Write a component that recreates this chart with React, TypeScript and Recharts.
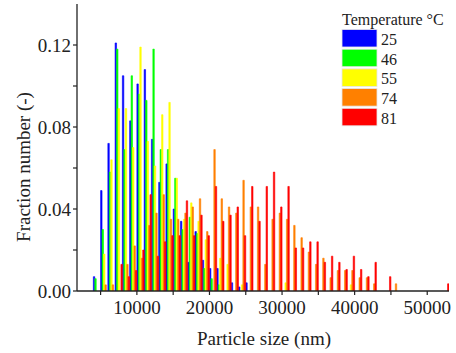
import React from "react";
import { BarChart, Bar, XAxis, YAxis } from "recharts";

// bin centres (nm), 1000 nm wide bins
const sizes = [
  4500, 5500, 6500, 7500, 8500, 9500, 10500, 11500, 12500, 13500,
  14500, 15500, 16500, 17500, 18500, 19500, 20500, 21500, 22500, 23500,
  24500, 25500, 26500, 27500, 28500, 29500, 30500, 31500, 32500, 33500,
  34500, 35500, 36500, 37500, 38500, 39500, 40500, 41500, 42500, 43500,
  44500, 45500, 46500, 47500, 48500, 49500, 50500, 51500, 52500,
];

const t25 = [
  0.007, 0.049, 0.072, 0.121, 0.105, 0.083, 0.101, 0.108, 0.074, 0.053,
  0.062, 0.04, 0.034, 0.014, 0.029, 0.015, 0.011, 0.011, 0, 0.004,
  0.002, 0.004, 0, 0, 0, 0, 0, 0, 0, 0,
  0, 0, 0, 0, 0, 0, 0, 0, 0, 0,
  0, 0, 0, 0, 0, 0, 0, 0, 0,
];
const t46 = [
  0.006, 0.03, 0.058, 0.118, 0.069, 0.105, 0.096, 0.093, 0.118, 0.069,
  0.069, 0.055, 0.03, 0.036, 0.028, 0.011, 0.006, 0.003, 0, 0,
  0, 0, 0, 0, 0, 0, 0, 0, 0, 0,
  0, 0, 0, 0, 0, 0, 0, 0, 0, 0,
  0, 0, 0, 0, 0, 0, 0, 0, 0,
];
const t55 = [
  0, 0.018, 0.064, 0.089, 0.089, 0.07, 0.119, 0.073, 0.061, 0.086,
  0.092, 0.055, 0.035, 0.043, 0.034, 0.025, 0, 0.016, 0.013, 0,
  0.003, 0, 0, 0, 0, 0, 0.004, 0, 0, 0,
  0, 0, 0, 0, 0, 0.003, 0, 0, 0, 0,
  0, 0, 0, 0, 0, 0, 0, 0, 0,
];
const t74 = [
  0, 0.003, 0.003, 0, 0.013, 0.022, 0.016, 0.032, 0.038, 0.047,
  0.035, 0.035, 0.038, 0.041, 0.045, 0.029, 0.069, 0.045, 0.041, 0.038,
  0.054, 0.041, 0.041, 0.013, 0.035, 0.038, 0.035, 0.032, 0.026, 0.019,
  0.013, 0.016, 0.0065, 0.01, 0.01, 0.01, 0.0065, 0.0065, 0.0035, 0,
  0, 0.0035, 0, 0, 0, 0, 0, 0, 0,
];
const t81 = [
  0, 0, 0, 0.013, 0.007, 0.01, 0.02, 0.047, 0.017, 0.024,
  0.027, 0.027, 0.044, 0.027, 0.037, 0.027, 0.051, 0.034, 0.037, 0.041,
  0.027, 0.051, 0.034, 0.051, 0.058, 0.041, 0.051, 0.021, 0.021, 0.024,
  0.024, 0.014, 0.017, 0.014, 0.0105, 0.017, 0.0105, 0.007, 0.014, 0,
  0.007, 0, 0, 0, 0, 0, 0, 0, 0.0035,
];

const temps = ["25", "46", "55", "74", "81"];
const seriesKeys = ["t25", "t46", "t55", "t74", "t81"];
const colors = ["#0000ff", "#00ff00", "#ffff00", "#ff8000", "#ff0000"];

const xTicks = [5000, 10000, 15000, 20000, 25000, 30000, 35000, 40000, 45000, 50000];
const yTicks = [0, 0.02, 0.04, 0.06, 0.08, 0.1, 0.12];

const rows = sizes.map((s, i) => ({
  size: s,
  t25: t25[i],
  t46: t46[i],
  t55: t55[i],
  t74: t74[i],
  t81: t81[i],
}));

const FONT = "'Liberation Serif', 'Times New Roman', serif";
const INK = "#222";

const XTick = (props: any) => {
  const { x, y, payload } = props;
  if (payload.value % 10000 !== 0) return <g />;
  return (
    <text x={x} y={y} dy="0.71em" textAnchor="middle" fontFamily={FONT} fontSize={19} fill={INK}>
      {payload.value}
    </text>
  );
};

const YTick = (props: any) => {
  const { x, y, payload } = props;
  if (Math.round(payload.value * 100) % 4 !== 0) return <g />;
  return (
    <text x={x} y={y} dy="0.355em" textAnchor="end" fontFamily={FONT} fontSize={19} fill={INK}>
      {payload.value.toFixed(2)}
    </text>
  );
};

export default function App() {
  return (
    <div style={{ position: "absolute", left: 0, top: 0, width: 456, height: 353, background: "#fff" }}>
      <BarChart
        width={456}
        height={353}
        data={rows}
        margin={{ top: 4, right: 7, left: 0, bottom: 0 }}
        barGap={0}
        barCategoryGap={0}
      >
        <XAxis
          xAxisId="b"
          dataKey="size"
          type="number"
          domain={[1750, 53000]}
          allowDataOverflow
          ticks={xTicks}
          interval={0}
          height={62}
          tickSize={4}
          tickMargin={6}
          axisLine={{ stroke: INK, strokeWidth: 1.3 }}
          tickLine={{ stroke: INK, strokeWidth: 1.2 }}
          tick={<XTick />}
          label={{
            content: () => (
              <text x={264} y={345} textAnchor="middle" fontFamily={FONT} fontSize={19} fill={INK}>
                Particle size (nm)
              </text>
            ),
          }}
        />
        <XAxis
          xAxisId="t"
          orientation="top"
          dataKey="size"
          type="number"
          domain={[1750, 53000]}
          allowDataOverflow
          ticks={xTicks}
          interval={0}
          height={0}
          mirror
          tickSize={4}
          axisLine={{ stroke: INK, strokeWidth: 1.3 }}
          tickLine={{ stroke: INK, strokeWidth: 1.2 }}
          tick={false}
        />
        <YAxis
          yAxisId="l"
          type="number"
          domain={[0, 0.14]}
          allowDataOverflow
          ticks={yTicks}
          interval={0}
          width={77}
          tickSize={4}
          tickMargin={2}
          axisLine={{ stroke: INK, strokeWidth: 1.3 }}
          tickLine={{ stroke: INK, strokeWidth: 1.2 }}
          tick={<YTick />}
          label={{
            content: () => (
              <text
                x={0}
                y={0}
                transform="translate(30,167) rotate(-90)"
                textAnchor="middle"
                fontFamily={FONT}
                fontSize={19}
                fill={INK}
              >
                Fraction number (-)
              </text>
            ),
          }}
        />
        <YAxis
          yAxisId="r"
          orientation="right"
          type="number"
          domain={[0, 0.14]}
          allowDataOverflow
          ticks={yTicks}
          interval={0}
          width={0}
          mirror
          tickSize={4}
          axisLine={{ stroke: INK, strokeWidth: 1.3 }}
          tickLine={{ stroke: INK, strokeWidth: 1.2 }}
          tick={false}
        />
        {seriesKeys.map((k, i) => (
          <Bar
            key={k}
            xAxisId="b"
            yAxisId="l"
            dataKey={k}
            name={temps[i]}
            fill={colors[i]}
            stroke={colors[i]}
            strokeWidth={0.6}
            barSize={1.45}
            isAnimationActive={false}
          />
        ))}
      </BarChart>
      <svg
        width={456}
        height={353}
        style={{ position: "absolute", left: 0, top: 0, pointerEvents: "none" }}
      >
        <text x={342} y={25} fontFamily={FONT} fontSize={16} fill={INK}>
          Temperature °C
        </text>
        {temps.map((t, i) => (
          <g key={t}>
            <rect
              x={342}
              y={29.5 + i * 19.7}
              width={35}
              height={17.5}
              fill={colors[i]}
              stroke="#e6e6e6"
              strokeWidth={0.8}
            />
            <text x={381} y={45 + i * 19.7} fontFamily={FONT} fontSize={16} fill={INK}>
              {t}
            </text>
          </g>
        ))}
      </svg>
    </div>
  );
}
